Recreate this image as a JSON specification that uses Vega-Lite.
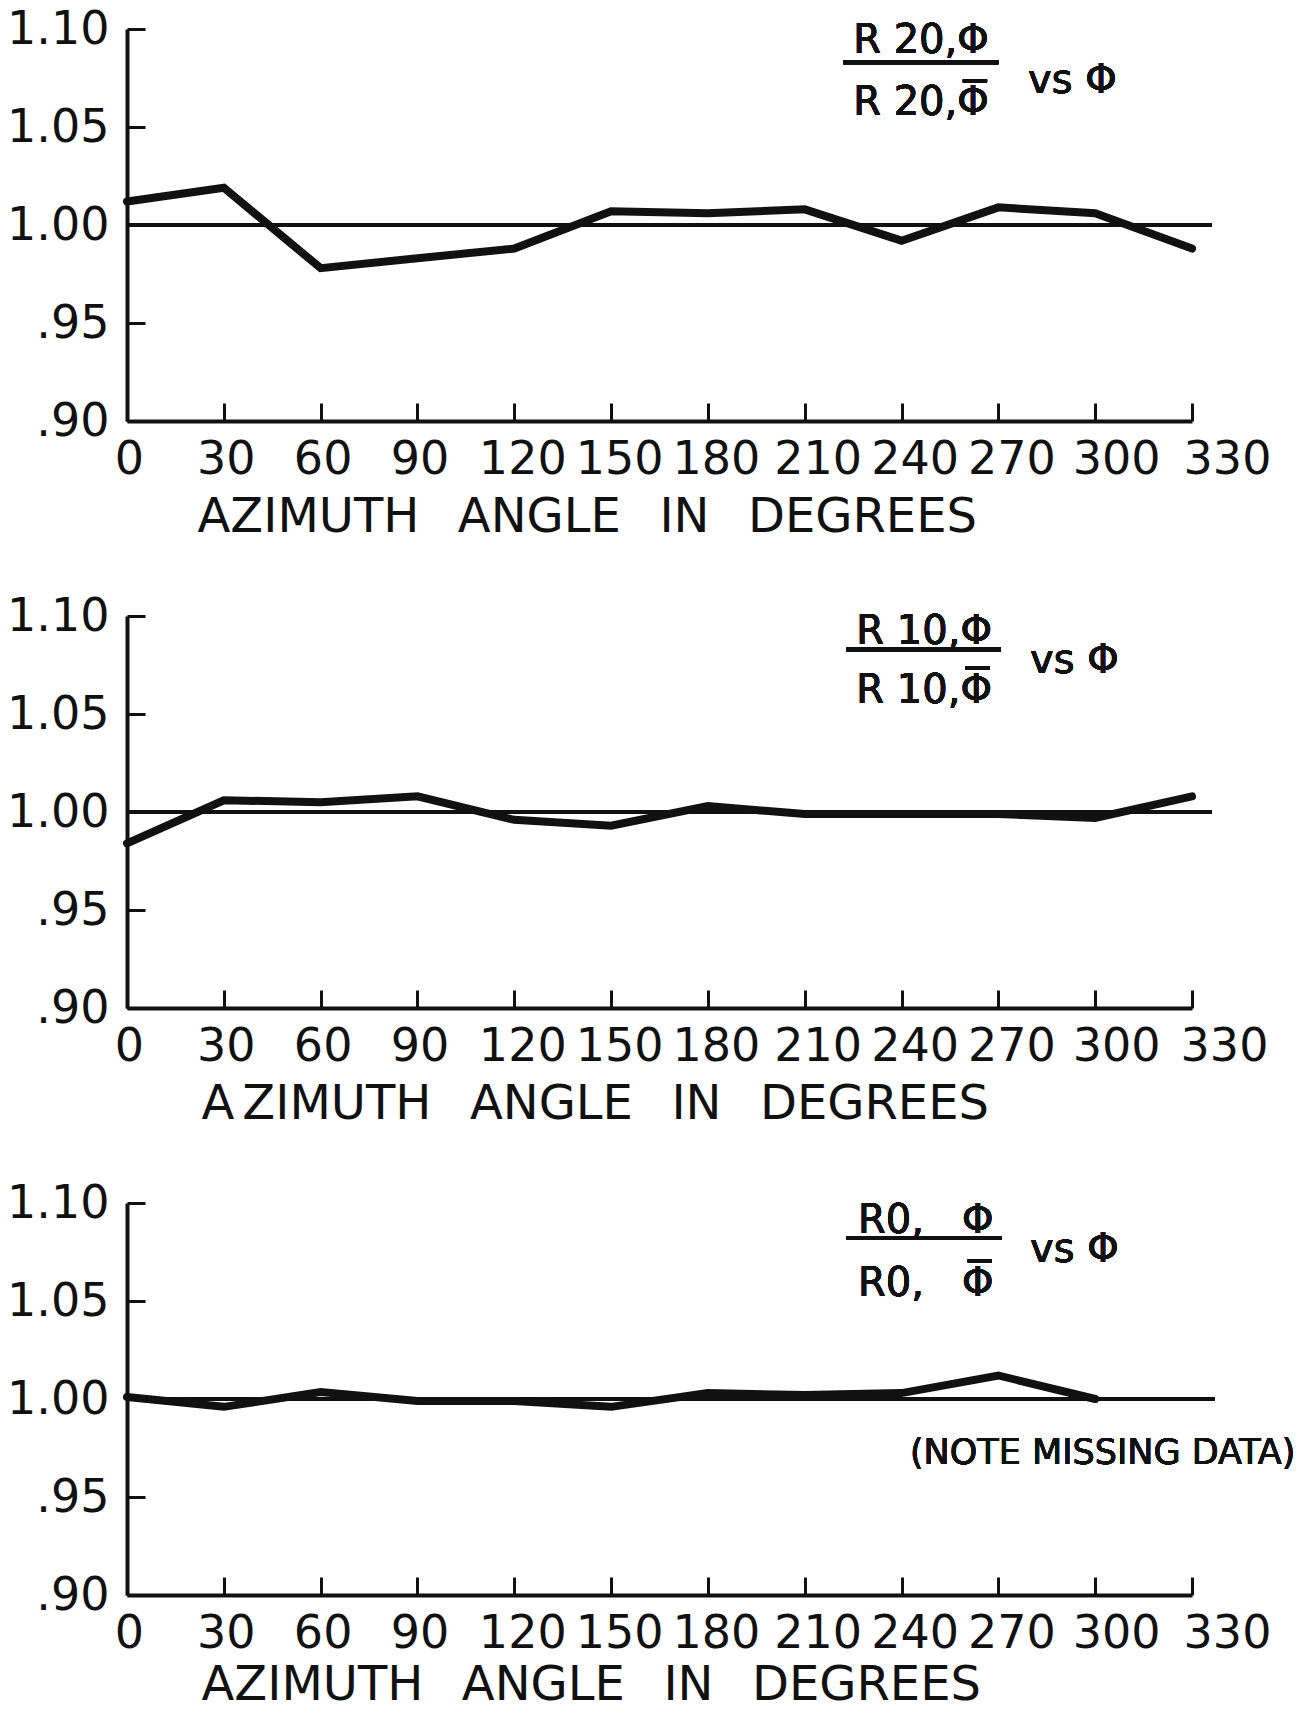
{
  "$schema": "https://vega.github.io/schema/vega-lite/v6.json",
  "background": "white",
  "padding": {"left": 6, "top": 6, "right": 0, "bottom": 0},
  "config": {
    "view": {"stroke": null},
    "font": "DejaVu Sans",
    "axis": {"grid": false, "domainColor": "#111", "tickColor": "#111", "labelColor": "#111", "titleColor": "#111", "labelFont": "DejaVu Sans", "titleFont": "DejaVu Sans"},
    "axisX": {
      "tickSize": -18, "tickWidth": 3, "domainWidth": 4,
      "labelFontSize": 46, "labelPadding": 34, "labelFlush": false, "labelOverlap": false,
      "titleFontSize": 48, "titleFontWeight": "normal", "titleAlign": "left", "titleAnchor": null, "titleBaseline": "middle"
    },
    "axisY": {
      "tickSize": -18, "tickWidth": 3, "domainWidth": 4,
      "labelFontSize": 46, "labelPadding": 36, "labelBaseline": "middle", "labelFlush": false, "labelOverlap": false,
      "title": null
    }
  },
  "spacing": 195,
  "bounds": "flush",
  "datasets": {
    "r20": [
      {"phi": 0, "ratio": 1.012}, {"phi": 30, "ratio": 1.019}, {"phi": 60, "ratio": 0.978}, {"phi": 90, "ratio": 0.983},
      {"phi": 120, "ratio": 0.988}, {"phi": 150, "ratio": 1.007}, {"phi": 180, "ratio": 1.006}, {"phi": 210, "ratio": 1.008},
      {"phi": 240, "ratio": 0.992}, {"phi": 270, "ratio": 1.009}, {"phi": 300, "ratio": 1.006}, {"phi": 330, "ratio": 0.988}
    ],
    "r10": [
      {"phi": 0, "ratio": 0.984}, {"phi": 30, "ratio": 1.006}, {"phi": 60, "ratio": 1.005}, {"phi": 90, "ratio": 1.008},
      {"phi": 120, "ratio": 0.996}, {"phi": 150, "ratio": 0.993}, {"phi": 180, "ratio": 1.003}, {"phi": 210, "ratio": 0.999},
      {"phi": 240, "ratio": 0.999}, {"phi": 270, "ratio": 0.999}, {"phi": 300, "ratio": 0.997}, {"phi": 330, "ratio": 1.008}
    ],
    "r0": [
      {"phi": 0, "ratio": 1.001}, {"phi": 30, "ratio": 0.996}, {"phi": 60, "ratio": 1.0035}, {"phi": 90, "ratio": 0.999},
      {"phi": 120, "ratio": 0.999}, {"phi": 150, "ratio": 0.996}, {"phi": 180, "ratio": 1.003}, {"phi": 210, "ratio": 1.002},
      {"phi": 240, "ratio": 1.003}, {"phi": 270, "ratio": 1.012}, {"phi": 300, "ratio": 1.0}
    ]
  },
  "vconcat": [
    {
      "width": 1065, "height": 392,
      "data": {"name": "r20"},
      "encoding": {
        "x": {"field": "phi", "type": "quantitative", "scale": {"domain": [0, 330], "nice": false, "zero": false},
          "axis": {"values": [0, 30, 60, 90, 120, 150, 180, 210, 240, 270, 300, 330],
            "labelOffset": {"condition": [{"test": "datum.value >= 330", "value": 35}, {"test": "datum.value >= 300", "value": 21}, {"test": "datum.value >= 210", "value": 13}, {"test": "datum.value >= 120", "value": 8}], "value": 2},
            "title": "AZIMUTH\u00a0\u00a0\u2006ANGLE\u00a0\u00a0\u2006IN\u00a0\u00a0\u2006DEGREES", "titleX": 70, "titleY": 96}},
        "y": {"field": "ratio", "type": "quantitative", "scale": {"domain": [0.9, 1.1], "nice": false, "zero": false},
          "axis": {"values": [0.9, 0.95, 1.0, 1.05, 1.1],
            "labelExpr": "datum.value >= 1 ? format(datum.value, '.2f') : replace(format(datum.value, '.2f'), '0.', '.')"}}
      },
      "layer": [
        {"mark": {"type": "rule", "strokeWidth": 3, "color": "#111"},
          "encoding": {"x": {"datum": 0, "type": "quantitative"}, "x2": {"datum": 336}, "y": {"datum": 1.0, "type": "quantitative"}}},
        {"mark": {"type": "line", "strokeWidth": 8, "color": "#111", "strokeJoin": "miter", "strokeCap": "round"}},
        {"mark": {"type": "text", "fontSize": 40, "align": "left", "baseline": "middle", "color": "#111"},
          "encoding": {"x": {"datum": 225, "type": "quantitative"}, "y": {"datum": 1.094, "type": "quantitative"}, "text": {"value": "R 20,Φ"}}},
        {"mark": {"type": "rule", "strokeWidth": 4, "color": "#111"},
          "encoding": {"x": {"datum": 222, "type": "quantitative"}, "x2": {"datum": 270}, "y": {"datum": 1.083, "type": "quantitative"}}},
        {"mark": {"type": "text", "fontSize": 40, "align": "left", "baseline": "middle", "color": "#111"},
          "encoding": {"x": {"datum": 225, "type": "quantitative"}, "y": {"datum": 1.062, "type": "quantitative"}, "text": {"value": "R 20,Φ"}}},
        {"mark": {"type": "rule", "strokeWidth": 3, "color": "#111"},
          "encoding": {"x": {"datum": 259, "type": "quantitative"}, "x2": {"datum": 266.5}, "y": {"datum": 1.0735, "type": "quantitative"}}},
        {"mark": {"type": "text", "fontSize": 40, "align": "left", "baseline": "middle", "color": "#111"},
          "encoding": {"x": {"datum": 279.2, "type": "quantitative"}, "y": {"datum": 1.0737, "type": "quantitative"}, "text": {"value": "vs Φ"}}}
      ]
    },
    {
      "width": 1065, "height": 392,
      "data": {"name": "r10"},
      "encoding": {
        "x": {"field": "phi", "type": "quantitative", "scale": {"domain": [0, 330], "nice": false, "zero": false},
          "axis": {"values": [0, 30, 60, 90, 120, 150, 180, 210, 240, 270, 300, 330],
            "labelOffset": {"condition": [{"test": "datum.value >= 330", "value": 32}, {"test": "datum.value >= 300", "value": 21}, {"test": "datum.value >= 210", "value": 13}, {"test": "datum.value >= 120", "value": 8}], "value": 2},
            "title": "A\u2006ZIMUTH\u00a0\u00a0\u2006ANGLE\u00a0\u00a0\u2006IN\u00a0\u00a0\u2006DEGREES", "titleX": 74, "titleY": 96}},
        "y": {"field": "ratio", "type": "quantitative", "scale": {"domain": [0.9, 1.1], "nice": false, "zero": false},
          "axis": {"values": [0.9, 0.95, 1.0, 1.05, 1.1],
            "labelExpr": "datum.value >= 1 ? format(datum.value, '.2f') : replace(format(datum.value, '.2f'), '0.', '.')"}}
      },
      "layer": [
        {"mark": {"type": "rule", "strokeWidth": 3, "color": "#111"},
          "encoding": {"x": {"datum": 0, "type": "quantitative"}, "x2": {"datum": 336}, "y": {"datum": 1.0, "type": "quantitative"}}},
        {"mark": {"type": "line", "strokeWidth": 8, "color": "#111", "strokeJoin": "miter", "strokeCap": "round"}},
        {"mark": {"type": "text", "fontSize": 40, "align": "left", "baseline": "middle", "color": "#111"},
          "encoding": {"x": {"datum": 226, "type": "quantitative"}, "y": {"datum": 1.0916, "type": "quantitative"}, "text": {"value": "R 10,Φ"}}},
        {"mark": {"type": "rule", "strokeWidth": 4, "color": "#111"},
          "encoding": {"x": {"datum": 223, "type": "quantitative"}, "x2": {"datum": 270.8}, "y": {"datum": 1.0829, "type": "quantitative"}}},
        {"mark": {"type": "text", "fontSize": 40, "align": "left", "baseline": "middle", "color": "#111"},
          "encoding": {"x": {"datum": 226, "type": "quantitative"}, "y": {"datum": 1.0615, "type": "quantitative"}, "text": {"value": "R 10,Φ"}}},
        {"mark": {"type": "rule", "strokeWidth": 3, "color": "#111"},
          "encoding": {"x": {"datum": 259.8, "type": "quantitative"}, "x2": {"datum": 267.3}, "y": {"datum": 1.0735, "type": "quantitative"}}},
        {"mark": {"type": "text", "fontSize": 40, "align": "left", "baseline": "middle", "color": "#111"},
          "encoding": {"x": {"datum": 279.8, "type": "quantitative"}, "y": {"datum": 1.0768, "type": "quantitative"}, "text": {"value": "vs Φ"}}}
      ]
    },
    {
      "width": 1065, "height": 392,
      "data": {"name": "r0"},
      "encoding": {
        "x": {"field": "phi", "type": "quantitative", "scale": {"domain": [0, 330], "nice": false, "zero": false},
          "axis": {"values": [0, 30, 60, 90, 120, 150, 180, 210, 240, 270, 300, 330],
            "labelOffset": {"condition": [{"test": "datum.value >= 330", "value": 35}, {"test": "datum.value >= 300", "value": 21}, {"test": "datum.value >= 210", "value": 13}, {"test": "datum.value >= 120", "value": 8}], "value": 2},
            "title": "AZIMUTH\u00a0\u00a0\u2006ANGLE\u00a0\u00a0\u2006IN\u00a0\u00a0\u2006DEGREES", "titleX": 74, "titleY": 90}},
        "y": {"field": "ratio", "type": "quantitative", "scale": {"domain": [0.9, 1.1], "nice": false, "zero": false},
          "axis": {"values": [0.9, 0.95, 1.0, 1.05, 1.1],
            "labelExpr": "datum.value >= 1 ? format(datum.value, '.2f') : replace(format(datum.value, '.2f'), '0.', '.')"}}
      },
      "layer": [
        {"mark": {"type": "rule", "strokeWidth": 3, "color": "#111"},
          "encoding": {"x": {"datum": 0, "type": "quantitative"}, "x2": {"datum": 337}, "y": {"datum": 1.0, "type": "quantitative"}}},
        {"mark": {"type": "line", "strokeWidth": 8, "color": "#111", "strokeJoin": "miter", "strokeCap": "round"}},
        {"mark": {"type": "text", "fontSize": 40, "align": "left", "baseline": "middle", "color": "#111"},
          "encoding": {"x": {"datum": 226.5, "type": "quantitative"}, "y": {"datum": 1.0908, "type": "quantitative"}, "text": {"value": "R0,\u00a0\u00a0\u00a0Φ"}}},
        {"mark": {"type": "rule", "strokeWidth": 4, "color": "#111"},
          "encoding": {"x": {"datum": 223, "type": "quantitative"}, "x2": {"datum": 271.1}, "y": {"datum": 1.0821, "type": "quantitative"}}},
        {"mark": {"type": "text", "fontSize": 40, "align": "left", "baseline": "middle", "color": "#111"},
          "encoding": {"x": {"datum": 226.5, "type": "quantitative"}, "y": {"datum": 1.0586, "type": "quantitative"}, "text": {"value": "R0,\u00a0\u00a0\u00a0Φ"}}},
        {"mark": {"type": "rule", "strokeWidth": 3, "color": "#111"},
          "encoding": {"x": {"datum": 260.5, "type": "quantitative"}, "x2": {"datum": 268}, "y": {"datum": 1.0705, "type": "quantitative"}}},
        {"mark": {"type": "text", "fontSize": 40, "align": "left", "baseline": "middle", "color": "#111"},
          "encoding": {"x": {"datum": 279.8, "type": "quantitative"}, "y": {"datum": 1.076, "type": "quantitative"}, "text": {"value": "vs Φ"}}},
        {"mark": {"type": "text", "fontSize": 35, "align": "left", "baseline": "middle", "color": "#111"},
          "encoding": {"x": {"datum": 242.6, "type": "quantitative"}, "y": {"datum": 0.9725, "type": "quantitative"}, "text": {"value": "(NOTE MISSING DATA)"}}}
      ]
    }
  ]
}
